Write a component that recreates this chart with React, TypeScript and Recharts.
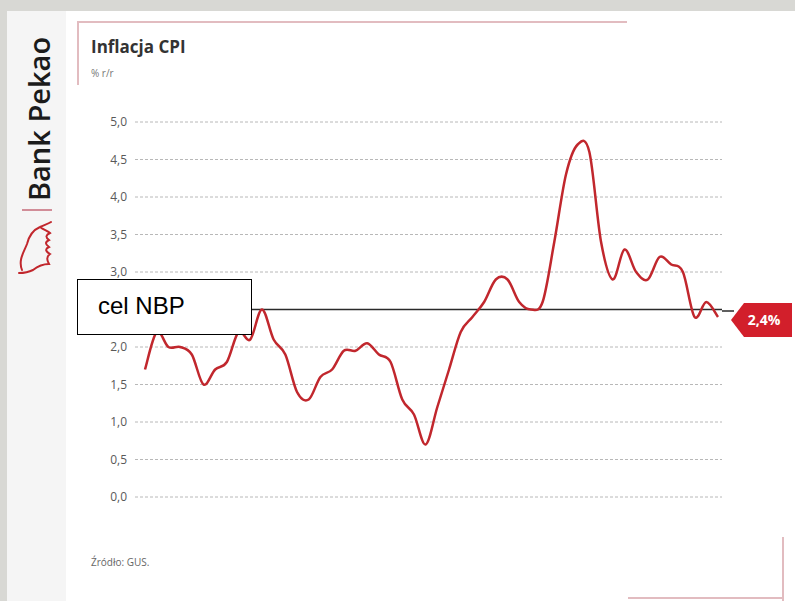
import { LineChart, Line, XAxis, YAxis, CartesianGrid, ReferenceLine } from "recharts";

const MONTHS = [
  "01.17", "02.17", "03.17", "04.17", "05.17", "06.17", "07.17", "08.17", "09.17", "10.17", "11.17", "12.17",
  "01.18", "02.18", "03.18", "04.18", "05.18", "06.18", "07.18", "08.18", "09.18", "10.18", "11.18", "12.18",
  "01.19", "02.19", "03.19", "04.19", "05.19", "06.19", "07.19", "08.19", "09.19", "10.19", "11.19", "12.19",
  "01.20", "02.20", "03.20", "04.20", "05.20", "06.20", "07.20", "08.20", "09.20", "10.20", "11.20", "12.20",
  "01.21", "02.21",
];
const CPI = [
  1.7, 2.2, 2.0, 2.0, 1.9, 1.5, 1.7, 1.8, 2.2, 2.1, 2.5, 2.1,
  1.9, 1.4, 1.3, 1.6, 1.7, 1.95, 1.95, 2.05, 1.9, 1.8, 1.3, 1.1,
  0.7, 1.2, 1.7, 2.2, 2.4, 2.6, 2.9, 2.9, 2.6, 2.5, 2.6, 3.4,
  4.3, 4.7, 4.6, 3.4, 2.9, 3.3, 3.0, 2.9, 3.2, 3.1, 3.0, 2.4,
  2.6, 2.4,
];
const Y_TICKS = [0, 0.5, 1, 1.5, 2, 2.5, 3, 3.5, 4, 4.5, 5];
const TARGET = 2.5;

const RED = "#c1272d";
const TAG_RED = "#d21f2b";
const FRAME = "#e2bcc0";
const FONT = '"Open Sans", "Noto Sans", sans-serif';

const data = MONTHS.map((m, i) => ({ m, cpi: CPI[i] }));
const fmt = (v: number) => v.toFixed(1).replace(".", ",");
const last = CPI[CPI.length - 1];

// Excel-like smoothed line (Catmull-Rom through the points)
function smoothCurve(ctx: any) {
  let pts: [number, number][] = [];
  return {
    areaStart() {},
    areaEnd() {},
    lineStart() { pts = []; },
    point(x: number, y: number) { pts.push([+x, +y]); },
    lineEnd() {
      if (!pts.length) return;
      ctx.moveTo(pts[0][0], pts[0][1]);
      for (let i = 0; i < pts.length - 1; i++) {
        const p0 = pts[Math.max(0, i - 1)];
        const p1 = pts[i];
        const p2 = pts[i + 1];
        const p3 = pts[Math.min(pts.length - 1, i + 2)];
        ctx.bezierCurveTo(
          p1[0] + (p2[0] - p0[0]) / 6, p1[1] + (p2[1] - p0[1]) / 6,
          p2[0] - (p3[0] - p1[0]) / 6, p2[1] - (p3[1] - p1[1]) / 6,
          p2[0], p2[1],
        );
      }
    },
  };
}

export default function App() {
  return (
    <div style={{ position: "absolute", left: 0, top: 0, width: 795, height: 601, background: "#d8d8d4", overflow: "hidden", fontFamily: FONT }}>
      {/* panels */}
      <div style={{ position: "absolute", left: 7, top: 11, width: 788, height: 590, background: "#fff" }} />
      <div style={{ position: "absolute", left: 7, top: 11, width: 59, height: 590, background: "#f5f5f5" }} />

      {/* frame corners */}
      <div style={{ position: "absolute", left: 77, top: 21, width: 550, height: 2, background: FRAME }} />
      <div style={{ position: "absolute", left: 77, top: 21, width: 2, height: 64, background: FRAME }} />
      <div style={{ position: "absolute", left: 782, top: 537, width: 2, height: 64, background: FRAME }} />
      <div style={{ position: "absolute", left: 628, top: 597, width: 156, height: 2, background: FRAME }} />

      {/* logo strip */}
      <div style={{ position: "absolute", left: 38, top: 119, width: 0, height: 0 }}>
        <div style={{ position: "absolute", left: 0, top: 0, transform: "translate(-50%, -50%) rotate(-90deg)", whiteSpace: "nowrap", fontSize: 29, fontWeight: 600, color: "#1b1b1b", lineHeight: 1 }}>
          Bank Pekao
        </div>
      </div>
      <svg style={{ position: "absolute", left: 0, top: 200 }} width={66} height={85}>
        <line x1={22} y1={10} x2={52} y2={10} stroke="#c46a78" strokeWidth={1.5} />
        <path
          d="M22 70 C18 60 24 52 27 44 C29 36 33 30 40 27 C44 25 48 24 51 22 M40 27 C44 30 48 31 50 33 C46 35 45 37 49 40 C45 42 45 44 49 47 C45 49 45 51 50 54 C46 57 47 60 49 64 C44 64 38 66 33 70 C29 72 25 73 19 73"
          fill="none" stroke={RED} strokeWidth={2} strokeLinecap="round" />
      </svg>

      {/* titles */}
      <div style={{ position: "absolute", left: 91, top: 35, fontSize: 17, fontWeight: 700, color: "#333" }}>Inflacja CPI</div>
      <div style={{ position: "absolute", left: 91, top: 66, fontSize: 10, color: "#777" }}>% r/r</div>
      <div style={{ position: "absolute", left: 91, top: 555, fontSize: 10, color: "#666" }}>Źródło: GUS.</div>

      <div style={{ position: "absolute", left: 0, top: 0 }}>
        <LineChart width={795} height={601} data={data} margin={{ top: 122, right: 73, bottom: 104, left: 0 }}>
          <CartesianGrid vertical={false} stroke="#b8b8b8" strokeDasharray="3 2" />
          <XAxis dataKey="m" hide padding={{ left: 10, right: 4 }} />
          <YAxis
            width={135}
            domain={[0, 5]}
            ticks={Y_TICKS}
            tickFormatter={fmt}
            axisLine={false}
            tickLine={false}
            tick={{ fontSize: 12, fill: "#595959", fontFamily: FONT }}
          />
          <ReferenceLine y={TARGET} stroke="#2a2a2a" strokeWidth={1.5} />
          <Line type={smoothCurve as any} dataKey="cpi" stroke={RED} strokeWidth={2.5} dot={false} isAnimationActive={false} />
        </LineChart>
      </div>

      {/* target label box */}
      <div style={{ position: "absolute", left: 77, top: 279, width: 173, height: 54, background: "#fff", border: "1.5px solid #000", boxSizing: "content-box" }}>
        <div style={{ position: "absolute", left: 20, top: 12, fontSize: 24, color: "#000", lineHeight: 1.2, fontFamily: '"Liberation Sans", Arial, sans-serif' }}>cel NBP</div>
      </div>

      {/* last value tag */}
      <svg style={{ position: "absolute", left: 720, top: 295 }} width={75} height={50}>
        <line x1={2} y1={16} x2={14} y2={16} stroke="#2a2a2a" strokeWidth={1.5} />
        <polygon points="11,25 24,8 72,8 72,42 24,42" fill={TAG_RED} />
        <text x={44} y={30} textAnchor="middle" fontSize={14} fontWeight={700} fill="#fff" fontFamily={FONT}>
          {fmt(last)}%
        </text>
      </svg>
    </div>
  );
}
